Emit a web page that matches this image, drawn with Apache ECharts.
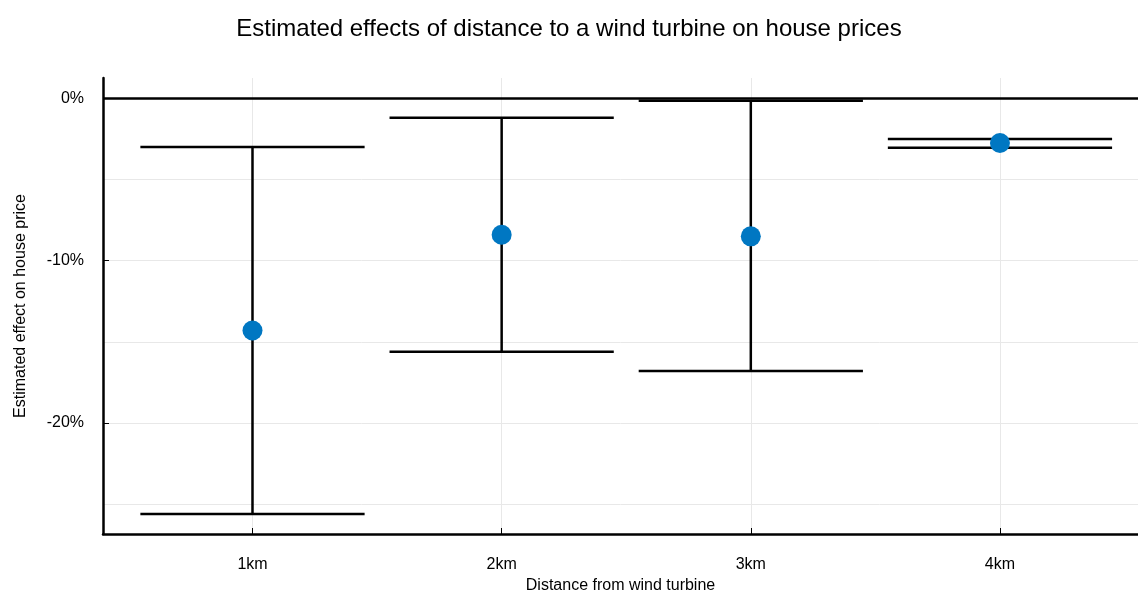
<!DOCTYPE html>
<html>
<head>
<meta charset="utf-8">
<script src="https://cdn.jsdelivr.net/npm/echarts@6/dist/echarts.min.js"></script>
<style>html,body{margin:0;padding:0;background:#fff}#c{width:1138px;height:591px}</style>
</head>
<body>
<div id="c"></div>
<script>
const categories = [1, 2, 3, 4];
const categoryLabels = ['1km', '2km', '3km', '4km'];
const estimate = [-14.3, -8.4, -8.5, -2.75];
const lower = [-25.6, -15.6, -16.8, -3.05];
const upper = [-3.0, -1.2, -0.15, -2.5];
const yLabelValues = [0, -10, -20];
const yGridValues = [-25, -20, -15, -10, -5];

const FONT = '"Liberation Sans Narrow", "Liberation Sans", Arial, sans-serif';
const chart = echarts.init(document.getElementById('c'), null, {renderer: 'canvas'});

const capHalf = 0.45;

chart.setOption({
  animation: false,
  backgroundColor: '#fff',
  title: {
    text: 'Estimated effects of distance to a wind turbine on house prices',
    left: 'center', top: 12,
    textStyle: {fontFamily: FONT, fontSize: 24, fontWeight: 'normal', color: '#000'}
  },
  grid: {left: 103, right: 0, top: 78, bottom: 57, containLabel: false, outerBoundsMode: 'none'},
  xAxis: {
    type: 'value', min: 0.4, max: 4.554,
    axisLine: {show: true, onZero: false, lineStyle: {color: '#000', width: 2.5}},
    axisTick: {show: true, inside: true, length: 6, customValues: categories, lineStyle: {color: '#000', width: 1}},
    axisLabel: {customValues: categories, formatter: v => categoryLabels[categories.indexOf(Math.round(v))] || '',
      fontFamily: FONT, fontSize: 16, color: '#000', margin: 23},
    splitLine: {show: false},
    name: 'Distance from wind turbine', nameLocation: 'middle', nameGap: 39,
    nameTextStyle: {fontFamily: FONT, fontSize: 16, color: '#000'}
  },
  yAxis: {
    type: 'value', min: -26.83, max: 1.25,
    axisLine: {show: true, onZero: false, lineStyle: {color: '#000', width: 2.5}},
    axisTick: {show: true, inside: true, length: 6, customValues: yLabelValues, lineStyle: {color: '#000', width: 1}},
    axisLabel: {customValues: yLabelValues, formatter: v => Math.round(v) + '%',
      fontFamily: FONT, fontSize: 16, color: '#000', margin: 19},
    splitLine: {show: false},
    name: 'Estimated effect on house price', nameLocation: 'middle', nameGap: 74, nameRotate: 90,
    nameTextStyle: {fontFamily: FONT, fontSize: 16, color: '#000'}
  },
  series: [
    {
      type: 'line', data: [], silent: true, z: 0, zlevel: 0,
      markLine: {
        silent: true, symbol: 'none', label: {show: false}, z: 0,
        lineStyle: {color: '#e8e8e8', width: 1, type: 'solid'},
        data: yGridValues.map(v => ({yAxis: v})).concat(categories.map(v => ({xAxis: v})))
      }
    },
    {
      type: 'line', data: [], silent: true, z: 1,
      markLine: {
        silent: true, symbol: 'none', label: {show: false}, z: 1,
        lineStyle: {color: '#000', width: 2.5, type: 'solid'},
        data: [{yAxis: 0}]
      }
    },
    {
      type: 'custom',
      data: categories.map((c, i) => [c, lower[i], upper[i]]),
      renderItem: function (params, api) {
        const x = api.value(0), lo = api.value(1), hi = api.value(2);
        const pLo = api.coord([x, lo]), pHi = api.coord([x, hi]);
        const lL = api.coord([x - capHalf, lo]), lR = api.coord([x + capHalf, lo]);
        const hL = api.coord([x - capHalf, hi]), hR = api.coord([x + capHalf, hi]);
        const style = {stroke: '#000', lineWidth: 2.5};
        return {type: 'group', children: [
          {type: 'line', shape: {x1: pLo[0], y1: pLo[1], x2: pHi[0], y2: pHi[1]}, style: style},
          {type: 'line', shape: {x1: lL[0], y1: lL[1], x2: lR[0], y2: lR[1]}, style: style},
          {type: 'line', shape: {x1: hL[0], y1: hL[1], x2: hR[0], y2: hR[1]}, style: style}
        ]};
      },
      encode: {x: 0, y: [1, 2]},
      z: 10
    },
    {
      type: 'scatter', symbol: 'circle', symbolSize: 20,
      itemStyle: {color: '#0077C2', opacity: 1},
      data: categories.map((c, i) => [c, estimate[i]]),
      z: 20
    }
  ]
});
</script>
</body>
</html>
